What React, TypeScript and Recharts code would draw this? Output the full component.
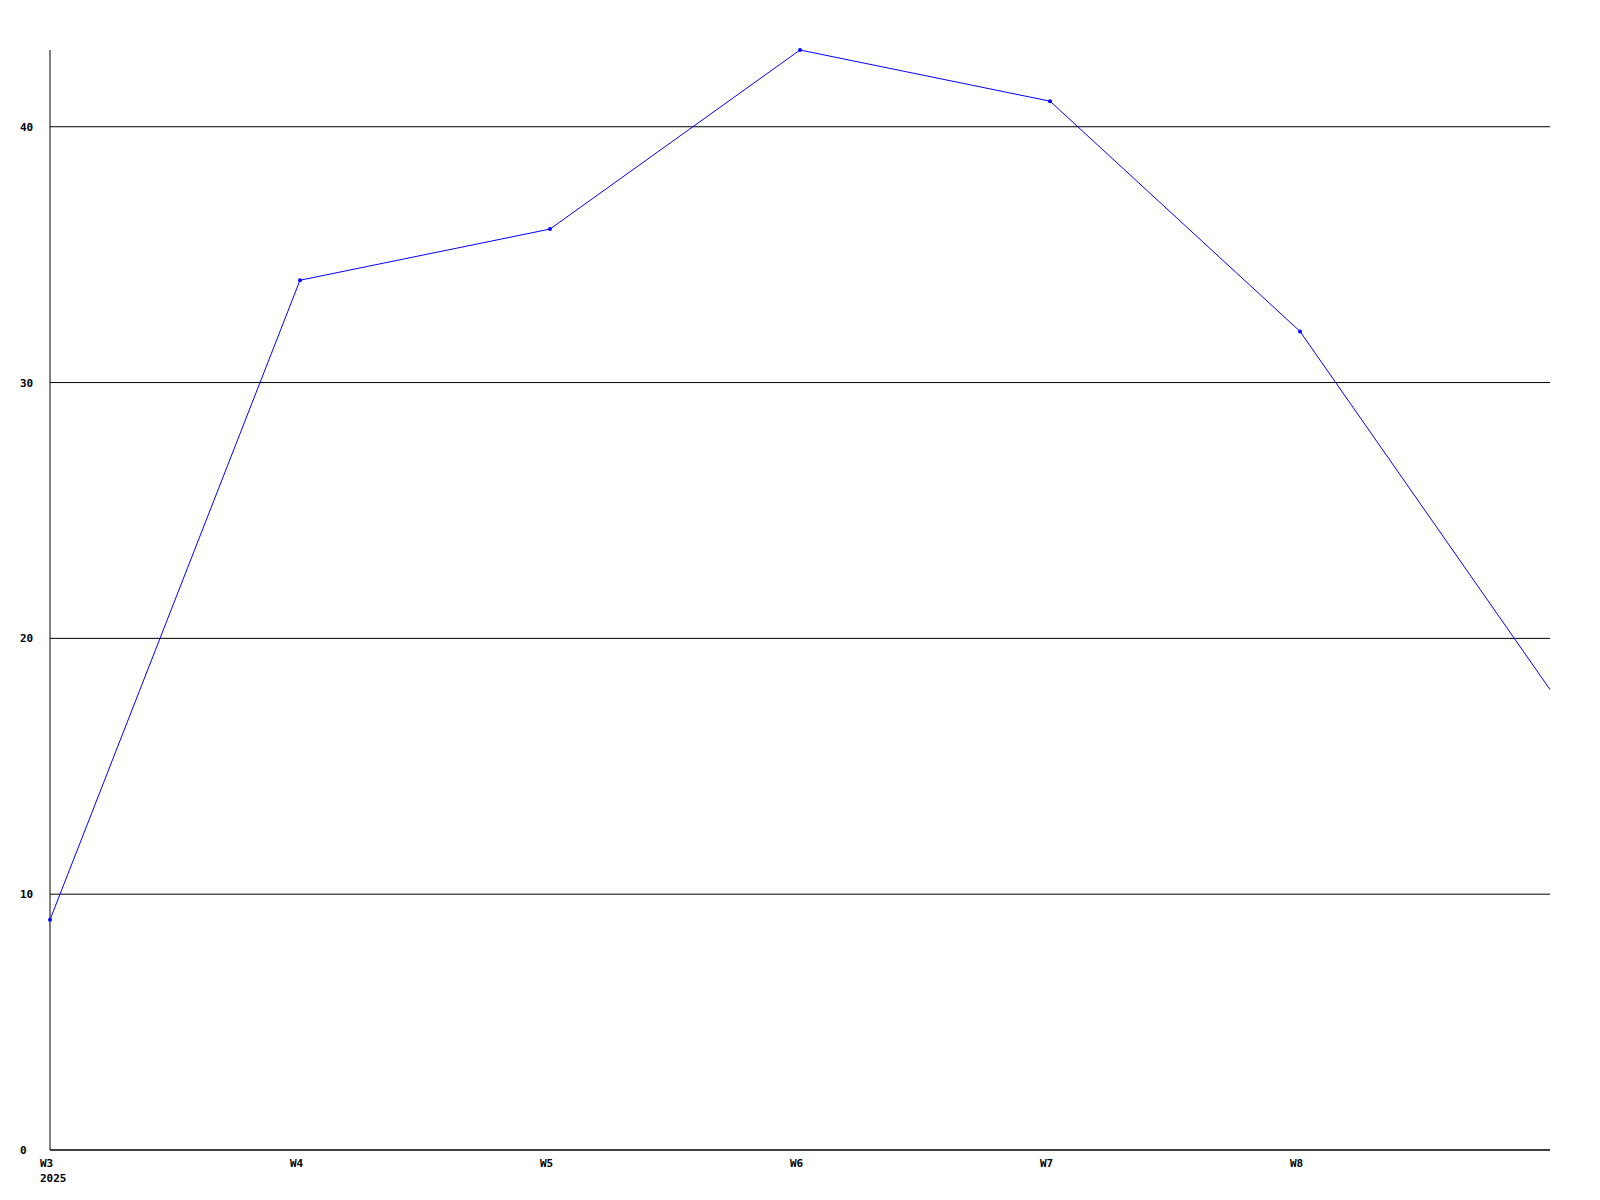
import { LineChart, Line, XAxis, YAxis, CartesianGrid } from "recharts";

const weeks = ["W3", "W4", "W5", "W6", "W7", "W8", "W9"];
const counts = [9, 34, 36, 43, 41, 32, 18];
const yTicks = [0, 10, 20, 30, 40];
const firstYear = "2025";

const data = weeks.map((w, i) => ({ week: w, value: counts[i] }));

const FONT = "'DejaVu Sans Mono', monospace";

function WeekTick(props: any) {
  const { x, y, payload, index } = props;
  // last week sits on the right edge, its label isn't printed
  if (index === weeks.length - 1) return null;
  return (
    <g>
      <text x={x - 10} y={y + 17} fontFamily={FONT} fontSize={11} fontWeight="bold" fill="#000" textAnchor="start">
        {payload.value}
      </text>
      {index === 0 && (
        <text x={x - 10} y={y + 32} fontFamily={FONT} fontSize={11} fontWeight="bold" fill="#000" textAnchor="start">
          {firstYear}
        </text>
      )}
    </g>
  );
}

function ValueTick(props: any) {
  const { x, y, payload } = props;
  return (
    <text x={x - 30} y={y + 4} fontFamily={FONT} fontSize={11} fontWeight="bold" fill="#000" textAnchor="start">
      {payload.value}
    </text>
  );
}

function Dot(props: any) {
  const { cx, cy, index } = props;
  if (index === counts.length - 1) return <g key={index} />;
  return <circle key={index} cx={cx} cy={cy} r={2} fill="#0000ff" stroke="none" />;
}

export default function App() {
  return (
    <div style={{ position: "absolute", left: 0, top: 0, width: 1600, height: 1200, background: "#fff" }}>
      <LineChart width={1600} height={1200} data={data} margin={{ top: 50, right: 50, bottom: 0, left: 20 }}>
        <CartesianGrid vertical={false} horizontalValues={yTicks} stroke="#000" strokeWidth={1} />
        <XAxis
          dataKey="week"
          axisLine={{ stroke: "#000" }}
          tickLine={false}
          tickSize={0}
          tickMargin={0}
          height={50}
          interval={0}
          tick={<WeekTick />}
        />
        <YAxis
          domain={[0, 43]}
          ticks={yTicks}
          axisLine={{ stroke: "#000" }}
          tickLine={false}
          tickSize={0}
          tickMargin={0}
          width={30}
          tick={<ValueTick />}
        />
        <Line
          type="linear"
          dataKey="value"
          stroke="#0000ff"
          strokeWidth={1}
          dot={<Dot />}
          activeDot={false}
          isAnimationActive={false}
        />
      </LineChart>
    </div>
  );
}
